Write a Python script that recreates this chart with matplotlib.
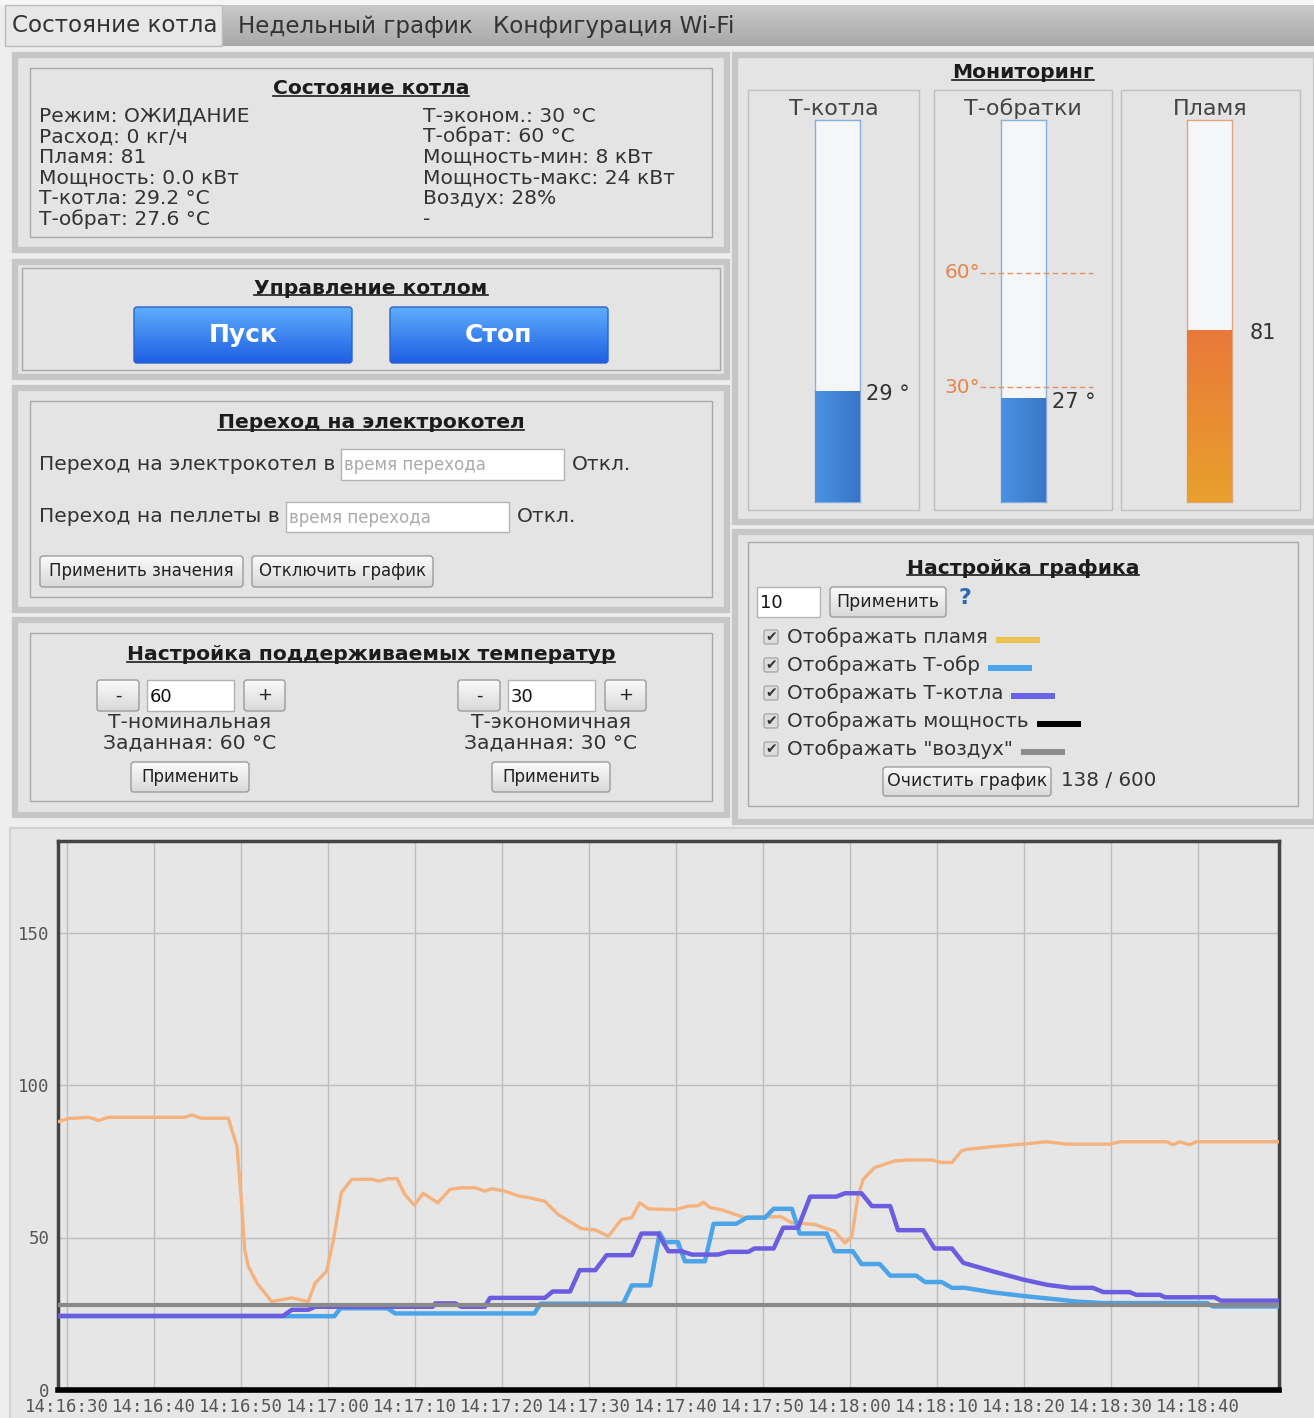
import numpy as np
import matplotlib
matplotlib.use('Agg')
import matplotlib.pyplot as plt
from matplotlib.patches import Rectangle, FancyBboxPatch
from matplotlib.colors import to_rgb
from matplotlib.ticker import FuncFormatter
import matplotlib.transforms as mtransforms

plt.rcParams['font.family'] = ['DejaVu Sans']

# ---------------- data ----------------
tabs = ["Состояние котла", "Недельный график", "Конфигурация Wi-Fi"]

status_left = ["Режим: ОЖИДАНИЕ", "Расход: 0 кг/ч", "Пламя: 81",
               "Мощность: 0.0 кВт", "Т-котла: 29.2 °C", "Т-обрат: 27.6 °C"]
status_right = ["Т-эконом.: 30 °C", "Т-обрат: 60 °C", "Мощность-мин: 8 кВт",
                "Мощность-макс: 24 кВт", "Воздух: 28%", "-"]

gauge_names = ["Т-котла", "Т-обратки", "Пламя"]
gauge_values = [29, 27, 81]
gauge_scale = [100, 100, 180]
gauge_units = [" °", " °", ""]
return_marks = [60, 30]

set_nominal = 60
set_econom = 30

legend_labels = ["Отображать пламя", "Отображать Т-обр", "Отображать Т-котла",
                 "Отображать мощность", 'Отображать "воздух"']
legend_colors = ["#e8c24a", "#4aa6f0", "#6b62ea", "#000000", "#8c8c8c"]
chart_period = 10
points_used, points_max = 138, 600

# chart series, seconds after 14:16:30
flame_t = [-1.1, 0.1, 2.4, 3.0, 3.6, 4.7, 13.5, 14.3, 15.4, 18.5, 19.5, 20.0, 20.4, 20.8,
           21.8, 23.5, 25.8, 27.7, 28.5, 29.8, 30.6, 31.5, 32.7, 35.0, 35.8, 36.9, 37.9,
           38.8, 39.9, 40.9, 42.6, 44.0, 45.3, 46.9, 48.0, 48.8, 50.3, 51.9, 53.2, 54.9,
           56.4, 59.1, 60.7, 62.2, 63.7, 64.9, 65.8, 66.8, 69.9, 71.4, 72.5, 73.1, 73.9,
           75.2, 77.9, 80.2, 82.1, 83.3, 85.9, 86.7, 88.2, 89.4, 90.2, 90.9, 91.5, 92.8,
           95.1, 96.7, 99.4, 100.5, 101.7, 102.8, 103.4, 106.4, 109.9, 112.6, 114.9,
           119.9, 121.0, 126.4, 127.1, 127.9, 129.0, 129.8, 139.3]
flame_v = [87.9, 89.0, 89.4, 89.0, 88.3, 89.4, 89.4, 90.2, 89.1, 89.1, 80.0, 62.5, 46.0, 40.6,
           35.1, 29.0, 30.2, 29.0, 35.1, 38.9, 49.3, 64.7, 69.1, 69.1, 68.5, 69.3, 69.3,
           64.1, 60.6, 64.5, 61.4, 65.8, 66.3, 66.3, 65.2, 66.0, 65.2, 63.6, 63.0, 61.9,
           57.6, 52.9, 52.5, 50.4, 55.9, 56.5, 61.4, 59.4, 59.1, 60.3, 60.4, 61.6, 59.8,
           59.1, 56.5, 56.8, 56.8, 54.8, 54.3, 53.5, 52.1, 48.2, 50.4, 63.6, 69.1, 72.9,
           75.1, 75.4, 75.4, 74.6, 74.6, 78.4, 78.9, 79.8, 80.6, 81.4, 80.6,
           80.6, 81.4, 81.4, 80.4, 81.4, 80.4, 81.4, 81.4]

tret_t = [-1.1, 30.7, 31.4, 36.8, 37.7, 53.7, 54.4, 63.9, 64.9, 67.0, 68.1, 68.7, 70.2,
          71.0, 73.3, 74.3, 76.9, 78.1, 80.2, 81.2, 83.3, 84.2, 87.3, 88.2, 90.3, 91.3,
          93.4, 94.6, 97.6, 98.6, 100.5, 101.7, 103.2, 106.4, 110.3, 114.1, 116.0, 119.0,
          131.0, 131.7, 139.3]
tret_v = [24.2, 24.2, 26.8, 26.8, 25.1, 25.1, 28.3, 28.3, 34.3, 34.3, 51.5, 48.5, 48.5,
          42.2, 42.2, 54.5, 54.5, 56.5, 56.5, 59.4, 59.4, 51.3, 51.3, 45.5, 45.5, 41.3,
          41.3, 37.5, 37.5, 35.4, 35.4, 33.5, 33.5, 32.0, 30.7, 29.6, 29.0, 28.5,
          28.5, 27.4, 27.4]

tkot_t = [-1.1, 24.8, 25.8, 27.7, 28.5, 42.0, 42.3, 44.6, 45.3, 48.0, 48.6, 54.9, 55.8,
          57.8, 58.9, 60.7, 62.0, 64.9, 66.0, 67.9, 69.1, 70.6, 71.8, 74.8, 76.0, 78.3,
          79.0, 81.2, 82.3, 84.0, 85.4, 88.4, 89.4, 91.3, 92.5, 94.6, 95.5, 98.4, 99.7,
          101.7, 103.0, 106.4, 109.9, 112.6, 115.3, 117.9, 119.1, 122.1, 122.9, 125.6,
          126.2, 131.9, 132.6, 139.3]
tkot_v = [24.3, 24.3, 26.3, 26.3, 27.3, 27.3, 28.4, 28.4, 27.3, 27.3, 30.2, 30.2, 32.3,
          32.3, 39.3, 39.3, 44.2, 44.2, 51.3, 51.3, 45.5, 45.5, 44.4, 44.4, 45.3, 45.3,
          46.4, 46.4, 53.2, 53.2, 63.4, 63.4, 64.5, 64.5, 60.3, 60.3, 52.4, 52.4, 46.4,
          46.4, 41.7, 38.9, 36.2, 34.5, 33.5, 33.5, 32.1, 32.1, 31.2, 31.2,
          30.4, 30.4, 29.3, 29.3]

power_t = [-1.1, 139.3]
power_v = [0.0, 0.0]
air_t = [-1.1, 139.3]
air_v = [28.0, 28.0]

time_ticks = list(range(0, 140, 10))
value_ticks = [0, 50, 100, 150]
start_clock = 14 * 3600 + 16 * 60 + 30

# ---------------- canvas ----------------
W, H = 1314, 1418
fig = plt.figure(figsize=(W / 100, H / 100), dpi=100)
fig.patch.set_facecolor('#eeeeee')
bg = fig.add_axes([0, 0, 1, 1])
bg.set_xlim(0, W)
bg.set_ylim(H, 0)
bg.set_autoscale_on(False)
bg.axis('off')
R = fig.canvas.get_renderer()

TXT = '#333333'
BODY = 14.6


def box(x0, y0, x1, y1, fc='none', ec='none', lw=1, z=1):
    p = Rectangle((x0, y0), x1 - x0, y1 - y0, facecolor=fc, edgecolor=ec, linewidth=lw, zorder=z)
    bg.add_patch(p)
    return p


def gradient(x0, y0, x1, y1, c0, c1, z=2, clip=None, horizontal=False, axes=None):
    a = axes or bg
    s = np.linspace(0, 1, 64)[:, None]
    img = np.array(to_rgb(c0)) * (1 - s) + np.array(to_rgb(c1)) * s
    img = img[None, :, :] if horizontal else img[:, None, :]
    im = a.imshow(img, extent=(x0, x1, y1, y0), aspect='auto', zorder=z, interpolation='bilinear')
    if clip is not None:
        im.set_clip_path(clip)
    return im


def txt(x, y, s, size=BODY, ha='left', color=TXT, **kw):
    return bg.text(x, y, s, ha=ha, va='center', fontsize=size, color=color, zorder=6, **kw)


def title(x, y, s, size=14.6):
    t = bg.text(x, y, s, ha='center', va='center', fontsize=size, fontweight='bold',
                color='#1c1c1c', zorder=6)
    bb = t.get_window_extent(R).transformed(bg.transData.inverted())
    yb = max(bb.y0, bb.y1) - 0.12 * abs(bb.y1 - bb.y0)
    bg.plot([bb.x0, bb.x1], [yb, yb], color='#1c1c1c', lw=1.2, zorder=6)
    return t


def panel(outer, inner=None):
    box(*outer, fc='#e4e4e4', ec='#c6c6c6', lw=4.5, z=1)
    if inner:
        box(*inner, ec='#a8a8a8', lw=1, z=2)


def button(x0, y0, x1, y1, label, size=12, c0='#fbfbfb', c1='#d8d8d8', ec='#9c9c9c',
           color='#222222', weight='normal'):
    p = FancyBboxPatch((x0, y0), x1 - x0, y1 - y0, boxstyle='round,pad=0,rounding_size=3',
                       fc='none', ec=ec, lw=1, zorder=4)
    bg.add_patch(p)
    gradient(x0, y0, x1, y1, c0, c1, z=3, clip=p)
    bg.text((x0 + x1) / 2, (y0 + y1) / 2, label, ha='center', va='center', fontsize=size,
            color=color, fontweight=weight, zorder=5)


def field(x0, y0, x1, y1, value='', placeholder=False, size=13):
    box(x0, y0, x1, y1, fc='white', ec='#b4b4b4', lw=1, z=3)
    if value:
        txt(x0 + 3, (y0 + y1) / 2 + 1, value, size=size,
            color='#aaaaaa' if placeholder else '#111111')


# ---------------- tabs ----------------
box(0, 0, W, 5, fc='#f6f6f6', z=0.5)
gradient(222, 5, W, 46, '#c9c9c9', '#a8a8a8', z=1)
box(5, 5, 222, 46, fc='#e7e7e7', ec='#bdbdbd', lw=1, z=2)
for x, s in zip([12, 238, 493], tabs):
    txt(x, 26, s, size=16.6)

# ---------------- status panel ----------------
panel((15, 55, 727, 250), (30, 68, 712, 237))
title(371, 89, "Состояние котла")
for i, (a, b) in enumerate(zip(status_left, status_right)):
    txt(39, 116 + i * 20.6, a)
    txt(423, 116 + i * 20.6, b)

# ---------------- control panel ----------------
panel((15, 262, 727, 377), (22, 268, 720, 370))
title(371, 288, "Управление котлом")
button(134, 307, 352, 363, "Пуск", size=18, c0='#5eacfc', c1='#1f5fe4', ec='#2b63c9',
       color='white', weight='bold')
button(390, 307, 608, 363, "Стоп", size=18, c0='#5eacfc', c1='#1f5fe4', ec='#2b63c9',
       color='white', weight='bold')

# ---------------- electric boiler panel ----------------
panel((15, 388, 727, 610), (30, 401, 712, 597))
title(371, 423, "Переход на электрокотел")
txt(39, 464, "Переход на электрокотел в")
field(341, 449, 564, 480, "время перехода", placeholder=True, size=12)
txt(572, 464, "Откл.")
txt(39, 517, "Переход на пеллеты в")
field(286, 502, 509, 532, "время перехода", placeholder=True, size=12)
txt(517, 517, "Откл.")
button(40, 556, 243, 587, "Применить значения")
button(252, 556, 433, 587, "Отключить график")

# ---------------- temperature settings panel ----------------
panel((15, 620, 727, 815), (30, 633, 712, 801))
title(371, 655, "Настройка поддерживаемых температур")
for cx, name, val in [(190, "Т-номинальная", set_nominal), (551, "Т-экономичная", set_econom)]:
    button(cx - 93, 680, cx - 51, 711, "-", size=13)
    field(cx - 43, 680, cx + 44, 711, str(val))
    button(cx + 54, 680, cx + 95, 711, "+", size=13)
    txt(cx, 722, name, ha='center')
    txt(cx, 743, f"Заданная: {val} °C", ha='center')
    button(cx - 59, 762, cx + 59, 792, "Применить")

# ---------------- monitoring panel ----------------
panel((735, 55, 1316, 522))
title(1023, 73, "Мониторинг")
sub_boxes = [(748, 919), (934, 1112), (1121, 1300)]
bar_left = [815, 1001, 1187]
for (sx0, sx1), name in zip(sub_boxes, gauge_names):
    box(sx0, 90, sx1, 510, ec='#c0c0c0', lw=1, z=2)
    txt((sx0 + sx1) / 2, 109, name, ha='center', size=16, color='#444444')

for i, (bx, val, vmax, unit) in enumerate(zip(bar_left, gauge_values, gauge_scale, gauge_units)):
    gx = fig.add_axes([bx / W, 1 - 502 / H, 45 / W, 382 / H])
    gx.set_xlim(-0.5, 0.5)
    gx.set_ylim(0, vmax)
    gx.set_facecolor('#f5f6f8')
    gx.set_xticks([])
    gx.set_yticks([])
    flame = i == 2
    edge = '#e2a27c' if flame else '#86aede'
    for s in gx.spines.values():
        s.set_color(edge)
        s.set_linewidth(1)
    bar = gx.bar(0, val, width=1.0, color='#e88a34' if flame else '#3f85d8')[0]
    if flame:
        gradient(bar.get_x(), val, bar.get_x() + bar.get_width(), 0, '#e9793a', '#e8a02c',
                 z=3, axes=gx)
    else:
        gradient(bar.get_x(), val, bar.get_x() + bar.get_width(), 0, '#4a92e4', '#3a76c6',
                 z=3, axes=gx, horizontal=True)
    gx.set_xlim(-0.5, 0.5)
    gx.set_ylim(0, vmax)
    gx.annotate(f"{val}{unit}", xy=(0.5, val), xytext=(18 if flame else 6, -3),
                textcoords='offset pixels', va='center', ha='left', fontsize=15,
                color='#333333', annotation_clip=False)
    if i == 1:
        tr = mtransforms.blended_transform_factory(gx.transAxes, gx.transData)
        for m in return_marks:
            gx.plot([-0.47, 2.04], [m, m], transform=tr, color='#e8915c', lw=1,
                    ls=(0, (4, 2.5)), clip_on=False, zorder=5)
            gx.annotate(f"{m}°", xy=(-0.47, m), xycoords=tr, xytext=(0, 0),
                        textcoords='offset pixels', ha='right', va='center', fontsize=14.5,
                        color='#e8844c', annotation_clip=False)

# ---------------- chart settings panel ----------------
panel((735, 532, 1316, 822), (748, 542, 1298, 806))
title(1023, 568, "Настройка графика")
field(757, 587, 820, 617, str(chart_period))
button(830, 587, 946, 617, "Применить", size=12.5)
txt(965, 598, "?", ha='center', size=16, color='#2c68b4', fontweight='bold')
for i, (lab, col) in enumerate(zip(legend_labels, legend_colors)):
    y = 637 + i * 28
    cb = FancyBboxPatch((764, y - 7), 14, 14, boxstyle='round,pad=0,rounding_size=2',
                        fc='#dcdcdc', ec='#aaaaaa', lw=1, zorder=4)
    bg.add_patch(cb)
    bg.text(771, y, "✔", ha='center', va='center', fontsize=10, color='#333333', zorder=5)
    t = txt(787, y, lab, size=14.3)
    bb = t.get_window_extent(R).transformed(bg.transData.inverted())
    box(bb.x1 + 8, y, bb.x1 + 52, y + 6, fc=col, z=4)
button(883, 767, 1051, 796, "Очистить график", size=12.5)
txt(1061, 781, f"{points_used} / {points_max}", size=14.3)

# ---------------- chart ----------------
box(10, 828, W + 2, H + 2, fc='#e6e6e6', ec='#d2d2d2', lw=1.5, z=0.5)
ax = fig.add_axes([58 / W, 1 - 1390 / H, 1221 / W, 549 / H])
ax.set_facecolor('#e6e6e6')
ax.plot(flame_t, flame_v, color='#f6b27c', lw=2.4, zorder=3)
ax.plot(tret_t, tret_v, color='#4ca4e8', lw=3.2, zorder=4)
ax.plot(tkot_t, tkot_v, color='#6b5ce0', lw=3.2, zorder=5)
ax.plot(power_t, power_v, color='#000000', lw=4, zorder=6, clip_on=False)
ax.plot(air_t, air_v, color='#8a8a8a', lw=3, zorder=6)
ax.set_xlim(-1.07, 139.3)
ax.set_ylim(0, 180)
ax.set_xticks(time_ticks)
ax.set_yticks(value_ticks)


def clock(s, _):
    c = start_clock + int(round(s))
    return f"{c // 3600:02d}:{c % 3600 // 60:02d}:{c % 60:02d}"


ax.xaxis.set_major_formatter(FuncFormatter(clock))
ax.grid(True, color='#bdbdbd', lw=1)
ax.set_axisbelow(True)
ax.tick_params(length=0, labelsize=12.5, labelcolor='#555555', pad=6)
for lab in ax.get_xticklabels() + ax.get_yticklabels():
    lab.set_family('DejaVu Sans Mono')
for s in ax.spines.values():
    s.set_color('#444444')
    s.set_linewidth(2.5)

fig.savefig('out.png', dpi=100, facecolor=fig.get_facecolor())
